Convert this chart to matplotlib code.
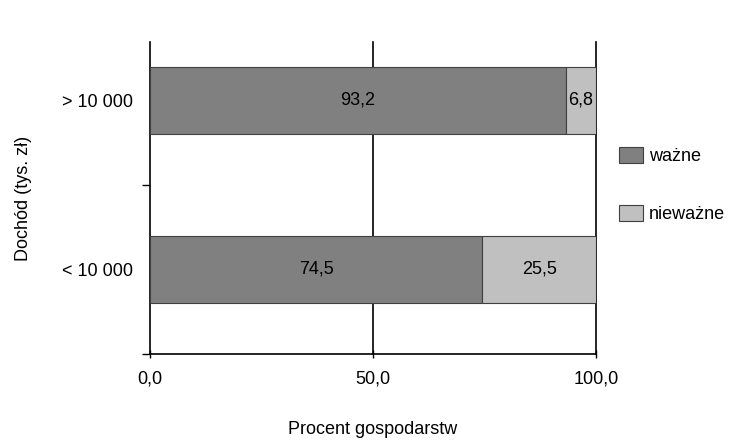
import matplotlib
matplotlib.use("Agg")
import matplotlib.pyplot as plt
from matplotlib.ticker import FuncFormatter

plt.rcParams['font.family'] = ['Liberation Sans', 'DejaVu Sans']
FS = 13

# income groups, bottom to top
categories = ["< 10 000", "> 10 000"]
wazne = [74.5, 93.2]
niewazne = [25.5, 6.8]
x_ticks = [0, 50, 100]

fig = plt.figure(figsize=(7.29, 4.41), dpi=100)
ax = fig.add_axes([150 / 729, 1 - 354 / 441, 446 / 729, 312 / 441])

pos = list(range(len(categories)))
b1 = ax.barh(pos, wazne, height=0.4, color="#808080", edgecolor="#404040",
             linewidth=0.8, label="ważne", zorder=3)
b2 = ax.barh(pos, niewazne, left=wazne, height=0.4, color="#c0c0c0",
             edgecolor="#404040", linewidth=0.8, label="nieważne", zorder=3)

for i in pos:
    ax.text(wazne[i] / 2, i, f"{wazne[i]:.1f}".replace(".", ","),
            ha="center", va="center", fontsize=FS, zorder=4)
    ax.text(wazne[i] + niewazne[i] / 2, i, f"{niewazne[i]:.1f}".replace(".", ","),
            ha="center", va="center", fontsize=FS, zorder=4)

ax.set_xlim(0, 100)
ax.set_ylim(-0.5, 1.346)
ax.set_xticks(x_ticks)
ax.xaxis.set_major_formatter(FuncFormatter(lambda v, p: f"{v:.1f}".replace(".", ",")))
ax.set_yticks([-0.5, 0.5])
ax.set_yticklabels([])
ax.set_yticks(pos, minor=True)
ax.set_yticklabels(categories, minor=True, fontsize=FS)
ax.tick_params(axis="y", which="minor", length=0, pad=12)
ax.tick_params(axis="y", which="major", length=6, width=1, color="black")
ax.tick_params(axis="x", length=6, width=1, labelsize=FS, pad=9, direction="inout")

for x in x_ticks[1:]:
    ax.axvline(x, color="black", linewidth=1.2, zorder=1, clip_on=False)

for s in ["top", "right"]:
    ax.spines[s].set_visible(False)
for s in ["left", "bottom"]:
    ax.spines[s].set_linewidth(1.2)
    ax.spines[s].set_color("black")

ax.set_xlabel("Procent gospodarstw", fontsize=FS, labelpad=24)
ax.set_ylabel("Dochód (tys. zł)", fontsize=FS, labelpad=22)

fig.legend(handles=[b1, b2], loc="center left", bbox_to_anchor=(603 / 729, 1 - 185 / 441),
           frameon=False, fontsize=FS, handlelength=1.3, handleheight=1.0,
           labelspacing=2.2, handletextpad=0.35)

fig.savefig("out.png", dpi=100)
